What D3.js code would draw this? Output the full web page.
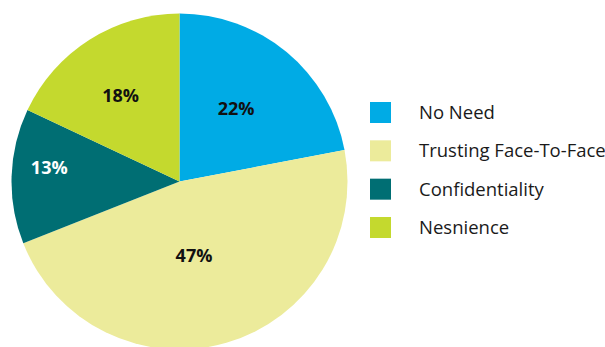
<!DOCTYPE html>
<html>
<head>
<meta charset="utf-8">
<script src="https://cdn.jsdelivr.net/npm/d3@7"></script>
<style>
  html, body { margin: 0; padding: 0; background: #ffffff; overflow: hidden; }
  svg { display: block; }
</style>
</head>
<body>
<svg id="chart" width="605" height="347"></svg>
<script>
// Survey answers: reasons given, share of respondents (%)
const categories = ["No Need", "Trusting Face-To-Face", "Confidentiality", "Nesnience"];
const shares = [22, 47, 13, 18];
const sliceColors = ["#00abe5", "#eceb9b", "#006e73", "#c4d92e"];
const labelColors = ["#111111", "#111111", "#ffffff", "#111111"];

// Label placement inside each slice: distance from centre and a small angular nudge (degrees)
const labelRadius = [92, 76, 131, 104];
const labelNudge = [-1.6, 5.2, 4.4, -2.1];

const W = 605, H = 347;
const cx = 179.5, cy = 181.5, R = 168;

const svg = d3.select("#chart");

const data = categories.map((c, i) => ({ name: c, value: shares[i], i }));

const pie = d3.pie().value(d => d.value).sort(null);
const arc = d3.arc().innerRadius(0).outerRadius(R);
const arcs = pie(data);

const g = svg.append("g").attr("transform", `translate(${cx},${cy})`);

g.selectAll("path.slice")
  .data(arcs)
  .join("path")
  .attr("class", "slice")
  .attr("d", arc)
  .attr("fill", d => sliceColors[d.data.i]);

g.selectAll("text.pct")
  .data(arcs)
  .join("text")
  .attr("class", "pct")
  .attr("transform", d => {
    const a = (d.startAngle + d.endAngle) / 2 + labelNudge[d.data.i] * Math.PI / 180;
    const r = labelRadius[d.data.i];
    return `translate(${r * Math.sin(a)},${-r * Math.cos(a)})`;
  })
  .attr("text-anchor", "middle")
  .attr("dy", "0.35em")
  .attr("font-family", "'Open Sans', sans-serif")
  .attr("font-weight", 700)
  .attr("font-size", 18)
  .attr("fill", d => labelColors[d.data.i])
  .text(d => d.data.value + "%");

// Legend
const legendY = d3.scalePoint().domain(categories).range([112.5, 227.5]);

const legend = svg.append("g");
const items = legend.selectAll("g.item")
  .data(data)
  .join("g")
  .attr("class", "item")
  .attr("transform", d => `translate(370,${legendY(d.name)})`);

items.append("rect")
  .attr("x", 0)
  .attr("y", -10.5)
  .attr("width", 21)
  .attr("height", 21)
  .attr("fill", d => sliceColors[d.i]);

items.append("text")
  .attr("x", 49)
  .attr("y", 0)
  .attr("dy", "0.35em")
  .attr("font-family", "'Open Sans', sans-serif")
  .attr("font-size", 18.5)
  .attr("fill", "#1a1a1a")
  .text(d => d.name);
</script>
</body>
</html>
